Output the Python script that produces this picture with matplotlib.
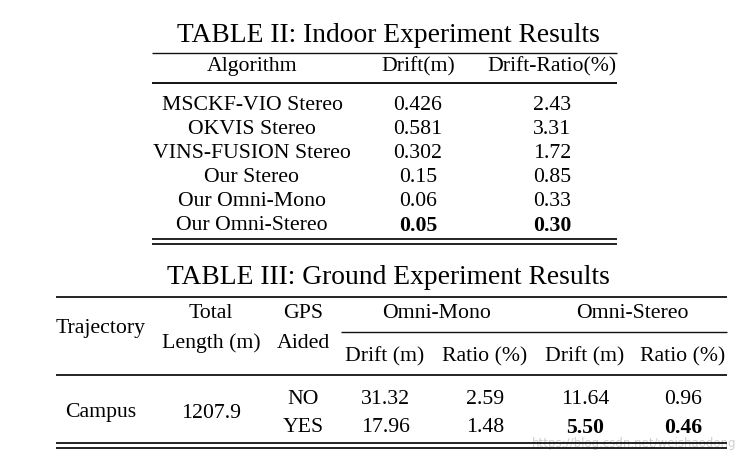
import matplotlib.pyplot as plt

plt.rcParams['font.family'] = ['Liberation Serif', 'DejaVu Serif']

# Table II data
t2_title = 'TABLE II: Indoor Experiment Results'
t2_header = ['Algorithm', 'Drift(m)', 'Drift-Ratio(%)']
t2_algos = ['MSCKF-VIO Stereo', 'OKVIS Stereo', 'VINS-FUSION Stereo',
            'Our Stereo', 'Our Omni-Mono', 'Our Omni-Stereo']
t2_drift = ['0.426', '0.581', '0.302', '0.15', '0.06', '0.05']
t2_ratio = ['2.43', '3.31', '1.72', '0.85', '0.33', '0.30']
t2_bold = [False, False, False, False, False, True]

# Table III data
t3_title = 'TABLE III: Ground Experiment Results'
t3_traj = 'Campus'
t3_length = '1207.9'
t3_gps = ['NO', 'YES']
t3_mono_drift = ['31.32', '17.96']
t3_mono_ratio = ['2.59', '1.48']
t3_stereo_drift = ['11.64', '5.50']
t3_stereo_ratio = ['0.96', '0.46']
t3_bold = [False, True]

W, H = 749, 459
fig = plt.figure(figsize=(W / 100, H / 100), dpi=100)
ax = fig.add_axes([0, 0, 1, 1])
ax.set_xlim(0, W)
ax.set_ylim(H, 0)
ax.axis('off')

fs = 15.7
tfs = 19.8
lw = 1.0
dy = 2  # text bbox centre sits a bit high


def txt(x, y, s, bold=False, size=fs, **kw):
    ax.text(x, y + dy, s, ha='center', va='center', fontsize=size,
            fontweight='bold' if bold else 'normal', color='black', **kw)


def rule(x0, x1, y, w=lw):
    ax.plot([x0, x1], [y, y], color='#111111', lw=w, solid_capstyle='butt')


# ---- Table II ----
txt(388, 33, t2_title, size=tfs)
x0, x1 = 152, 617
cols = [252, 418, 552]
rule(x0, x1, 53)
for c, h in zip(cols, t2_header):
    txt(c, 65, h)
rule(x0, x1, 83, 1.4)
ys = [103, 127, 152, 176, 200, 224]
for y, a, d, r, b in zip(ys, t2_algos, t2_drift, t2_ratio, t2_bold):
    txt(cols[0], y, a)
    txt(cols[1], y, d, bold=b)
    txt(cols[2], y, r, bold=b)
rule(x0, x1, 239, 1.3)
rule(x0, x1, 243.5, 1.3)

# ---- Table III ----
txt(388, 276, t3_title, size=tfs)
x0, x1 = 56, 727
rule(x0, x1, 297, 1.3)
txt(101, 326, 'Trajectory')
txt(211, 312, 'Total')
txt(211, 341, 'Length (m)')
txt(303, 312, 'GPS')
txt(303, 341, 'Aided')
txt(437, 312, 'Omni-Mono')
txt(632, 312, 'Omni-Stereo')
rule(341, x1, 332)
sub = [385, 485, 585, 683]
for c, h in zip(sub, ['Drift (m)', 'Ratio (%)', 'Drift (m)', 'Ratio (%)']):
    txt(c, 355, h)
rule(x0, x1, 375, 1.3)
txt(101, 411, t3_traj)
txt(211, 411, t3_length)
for y, g, md, mr, sd, sr, b in zip([397, 426], t3_gps, t3_mono_drift,
                                    t3_mono_ratio, t3_stereo_drift,
                                    t3_stereo_ratio, t3_bold):
    txt(303, y, g)
    txt(sub[0], y, md)
    txt(sub[1], y, mr)
    txt(sub[2], y, sd, bold=b)
    txt(sub[3], y, sr, bold=b)
rule(x0, x1, 442.5, 1.3)
rule(x0, x1, 447.5, 1.3)

ax.text(736, 443, 'https://blog.csdn.net/weishaodong', ha='right', va='center',
        fontsize=8.5, color='#cfcfcf', family='DejaVu Sans', zorder=0)

fig.savefig('out.png', dpi=100)
